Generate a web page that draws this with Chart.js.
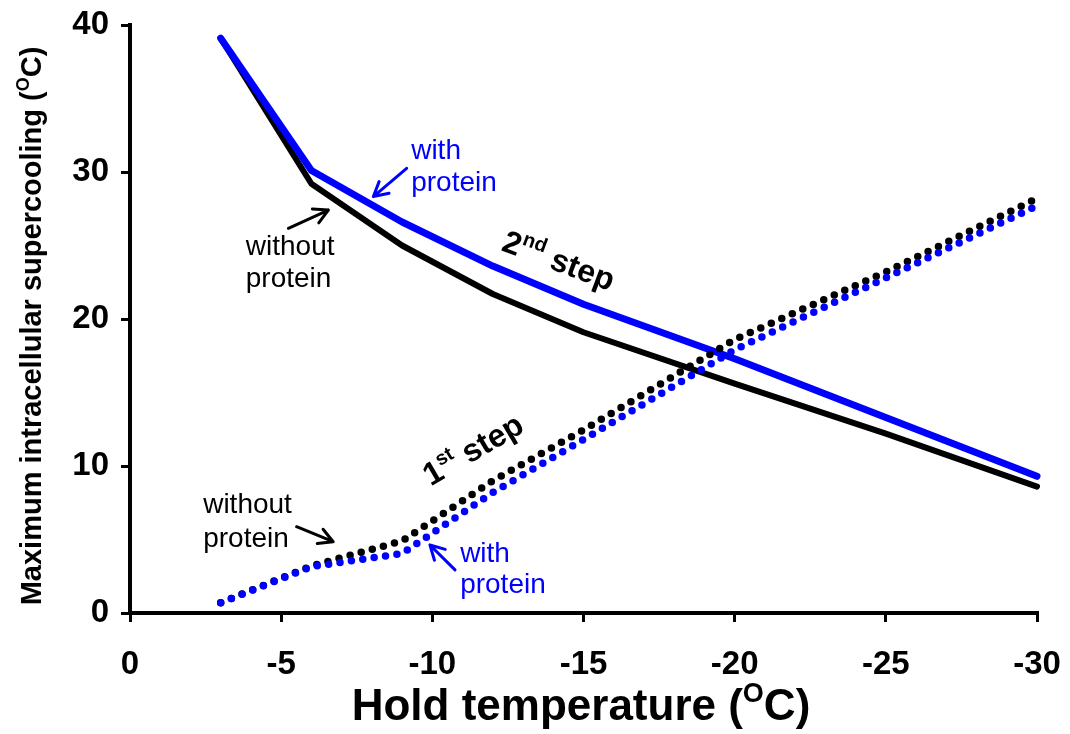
<!DOCTYPE html>
<html>
<head>
<meta charset="utf-8">
<script src="https://cdn.jsdelivr.net/npm/chart.js@4"></script>
<style>
  html, body { margin: 0; padding: 0; background: #fff; }
  #wrap { width: 1070px; height: 734px; }
</style>
</head>
<body>
<div id="wrap"><canvas id="chart" width="1070" height="734"></canvas></div>
<script>
const FONT = "'Liberation Sans', Arial, sans-serif"
const BLUE = '#0000ff'
const BLACK = '#000000'

// hold temperatures (degrees C)
const holdTemps = [-3, -6, -9, -12, -15, -20, -25, -30]

// 2nd step (solid lines)
const secondWithProtein = [39.1, 30.1, 26.6, 23.6, 21.0, 17.3, 13.3, 9.3]
const secondWithoutProtein = [39.1, 29.2, 25.0, 21.7, 19.1, 15.6, 12.2, 8.6]

// 1st step (dotted lines)
const firstWithProtein = [0.7, 3.15, 4.05, 8.2, 11.8, 17.9, 22.8, 27.7]
const firstWithoutProtein = [0.7, 3.2, 4.9, 9.0, 12.45, 18.6, 23.2, 28.2]

const xTicks = [0, -5, -10, -15, -20, -25, -30]
const yTicks = [0, 10, 20, 30, 40]

const toPoints = values => holdTemps.map((t, i) => ({ x: t, y: values[i] }))

Chart.defaults.font.family = FONT
Chart.defaults.color = BLACK

// draws text made of normal and superscript parts
function drawRich(ctx, parts, x, y, size, weight, color, align) {
  const supSize = Math.round(size * 0.62)
  let total = 0
  const widths = parts.map(([text, sup]) => {
    ctx.font = `${weight} ${sup ? supSize : size}px ${FONT}`
    const w = ctx.measureText(text).width
    total += w
    return w
  })
  let cx = align === 'center' ? x - total / 2 : x
  ctx.fillStyle = color
  ctx.textAlign = 'left'
  ctx.textBaseline = 'alphabetic'
  parts.forEach(([text, sup], i) => {
    ctx.font = `${weight} ${sup ? supSize : size}px ${FONT}`
    ctx.fillText(text, cx, sup ? y - size * 0.4 : y)
    cx += widths[i]
  })
}

function drawArrow(ctx, x1, y1, x2, y2, color) {
  const ang = Math.atan2(y2 - y1, x2 - x1)
  const head = 16
  const spread = 0.5
  ctx.save()
  ctx.strokeStyle = color
  ctx.lineWidth = 3
  ctx.lineCap = 'round'
  ctx.lineJoin = 'round'
  ctx.beginPath()
  ctx.moveTo(x1, y1)
  ctx.lineTo(x2, y2)
  ctx.moveTo(x2 - head * Math.cos(ang - spread), y2 - head * Math.sin(ang - spread))
  ctx.lineTo(x2, y2)
  ctx.lineTo(x2 - head * Math.cos(ang + spread), y2 - head * Math.sin(ang + spread))
  ctx.stroke()
  ctx.restore()
}

// labels, arrows and axis titles
const annotations = {
  id: 'annotations',
  afterDraw(chart) {
    const { ctx, scales: { x, y } } = chart
    const px = v => x.getPixelForValue(v)
    const py = v => y.getPixelForValue(v)
    const LBL = 28

    ctx.save()

    // axis titles
    drawRich(ctx, [['Hold temperature (', false], ['O', true], ['C)', false]],
      581, 720, 44, 'bold', BLACK, 'center')

    ctx.save()
    ctx.translate(41, 326)
    ctx.rotate(-Math.PI / 2)
    drawRich(ctx, [['Maximum intracellular supercooling (', false], ['O', true], ['C)', false]],
      0, 0, 29, 'bold', BLACK, 'center')
    ctx.restore()

    // upper labels (2nd step)
    drawRich(ctx, [['with', false]], px(-9.3), py(30.9), LBL, 'normal', BLUE, 'left')
    drawRich(ctx, [['protein', false]], px(-9.3), py(28.7), LBL, 'normal', BLUE, 'left')
    drawArrow(ctx, px(-9.15), py(30.25), px(-8.05), py(28.33), BLUE)

    drawRich(ctx, [['without', false]], px(-3.83), py(24.35), LBL, 'normal', BLACK, 'left')
    drawRich(ctx, [['protein', false]], px(-3.83), py(22.2), LBL, 'normal', BLACK, 'left')
    drawArrow(ctx, px(-5.24), py(26.17), px(-6.56), py(27.41), BLACK)

    // lower labels (1st step)
    drawRich(ctx, [['without', false]], px(-2.42), py(6.77), LBL, 'normal', BLACK, 'left')
    drawRich(ctx, [['protein', false]], px(-2.42), py(4.5), LBL, 'normal', BLACK, 'left')
    drawArrow(ctx, px(-5.51), py(5.87), px(-6.72), py(4.85), BLACK)

    drawRich(ctx, [['with', false]], px(-10.92), py(3.5), LBL, 'normal', BLUE, 'left')
    drawRich(ctx, [['protein', false]], px(-10.92), py(1.36), LBL, 'normal', BLUE, 'left')
    drawArrow(ctx, px(-10.75), py(2.93), px(-9.92), py(4.63), BLUE)

    // step captions
    ctx.save()
    ctx.translate(px(-12.25), py(24.7))
    ctx.rotate(0.36)
    drawRich(ctx, [['2', false], ['nd', true], [' step', false]], 0, 0, 32, 'bold', BLACK, 'left')
    ctx.restore()

    ctx.save()
    ctx.translate(px(-9.95), py(8.6))
    ctx.rotate(-0.53)
    drawRich(ctx, [['1', false], ['st', true], [' step', false]], 0, 0, 32, 'bold', BLACK, 'left')
    ctx.restore()

    ctx.restore()
  }
}

const solid = (label, values, color, width, order) => ({
  label,
  data: toPoints(values),
  borderColor: color,
  borderWidth: width,
  borderCapStyle: 'round',
  borderJoinStyle: 'round',
  pointRadius: 0,
  tension: 0,
  clip: false,
  order
})

const dotted = (label, values, color, order) => ({
  label,
  data: toPoints(values),
  borderColor: color,
  borderWidth: 7.5,
  borderDash: [0, 11.5],
  borderCapStyle: 'round',
  borderJoinStyle: 'round',
  pointRadius: 0,
  tension: 0,
  clip: false,
  order
})

new Chart(document.getElementById('chart'), {
  type: 'line',
  data: {
    datasets: [
      dotted('1st step, with protein', firstWithProtein, BLUE, 1),
      dotted('1st step, without protein', firstWithoutProtein, BLACK, 2),
      solid('2nd step, with protein', secondWithProtein, BLUE, 7, 3),
      solid('2nd step, without protein', secondWithoutProtein, BLACK, 6, 4)
    ]
  },
  options: {
    responsive: false,
    animation: false,
    events: [],
    layout: {
      padding: { left: 0, right: 33, top: 25, bottom: 0 }
    },
    scales: {
      x: {
        type: 'linear',
        min: -30,
        max: 0,
        reverse: true,
        afterBuildTicks: scale => {
          scale.ticks = xTicks.map(v => ({ value: v }))
        },
        afterFit: scale => {
          scale.height = 121
          scale.paddingLeft = 0
          scale.paddingRight = 0
        },
        ticks: {
          font: { size: 33, weight: 'bold' },
          color: BLACK,
          padding: 23,
          maxRotation: 0,
          callback: v => String(v)
        },
        grid: {
          drawOnChartArea: false,
          drawTicks: true,
          tickLength: 9,
          color: BLACK,
          lineWidth: 3
        },
        border: { display: true, color: BLACK, width: 4 }
      },
      y: {
        type: 'linear',
        min: 0,
        max: 40,
        afterBuildTicks: scale => {
          scale.ticks = yTicks.map(v => ({ value: v }))
        },
        afterFit: scale => {
          scale.width = 130
          scale.paddingTop = 0
          scale.paddingBottom = 0
        },
        ticks: {
          font: { size: 33, weight: 'bold' },
          color: BLACK,
          padding: 12,
          callback: v => String(v)
        },
        grid: {
          drawOnChartArea: false,
          drawTicks: true,
          tickLength: 9,
          color: BLACK,
          lineWidth: 3
        },
        border: { display: true, color: BLACK, width: 4 }
      }
    },
    plugins: {
      legend: { display: false },
      tooltip: { enabled: false }
    }
  },
  plugins: [annotations]
})
</script>
</body>
</html>
